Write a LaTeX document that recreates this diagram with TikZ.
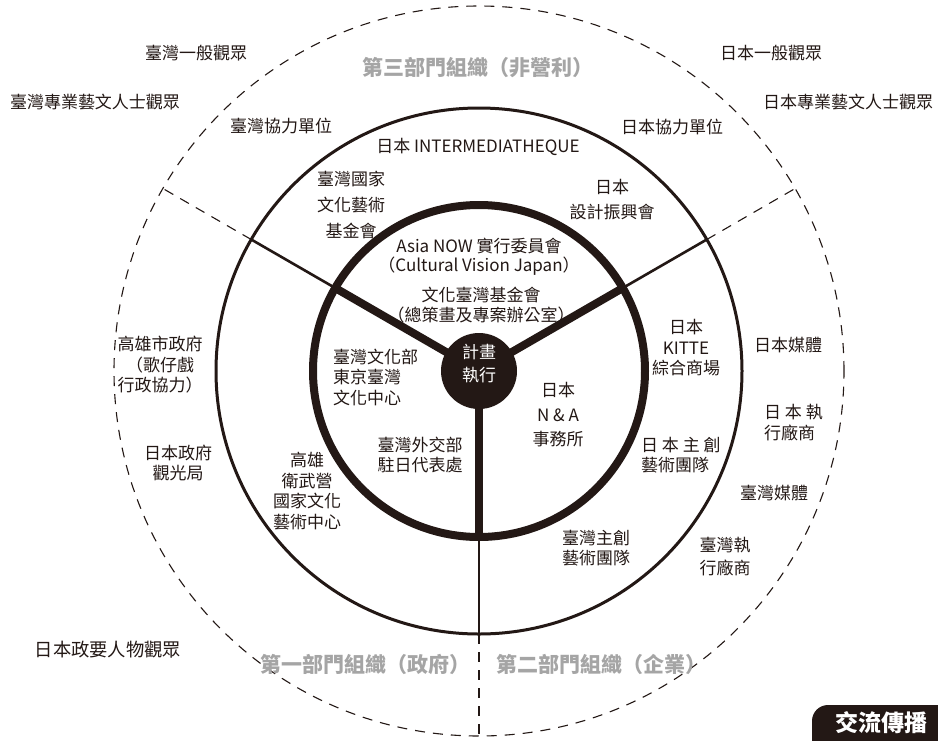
\documentclass[tikz,border=0pt]{standalone}
\usepackage{fontspec}
\setmainfont{Noto Sans CJK TC}
\usetikzlibrary{calc}
\definecolor{ink}{HTML}{231815}
\definecolor{graytitle}{HTML}{A5A5A5}
\begin{document}
\begin{tikzpicture}[x=1pt,y=-1pt,
  lbl/.style={text=ink, font=\fontsize{17}{21}\selectfont, align=center, inner sep=0pt},
  gtitle/.style={text=graytitle, font=\fontsize{21}{21}\selectfont\bfseries, inner sep=0pt},
  hubstyle/.style={circle, fill=ink, draw=none, minimum size=76pt, inner sep=0pt},
  hubtext/.style={text=white, font=\fontsize{17}{23}\selectfont, align=center, inner sep=0pt},
  spokethick/.style={draw=ink, line width=8pt},
  spokemid/.style={draw=ink, line width=2.6pt},
  spokeouter/.style={draw=ink, line width=1.1pt, dash pattern=on 10pt off 8pt},
  badgetext/.style={text=white, font=\fontsize{23}{23}\selectfont\bfseries, inner sep=0pt}]
\fill[white] (0,0) rectangle (938,740);
\useasboundingbox (0,0) rectangle (938,740);

\coordinate (c) at (479,371);
% circles
\draw[ink, line width=1.1pt, dash pattern=on 10pt off 8pt] (c) circle[radius=365pt];
\draw[ink, line width=3pt] (c) circle[radius=263pt];
\draw[ink, line width=8pt] (c) circle[radius=166pt];

% spokes
\foreach \a/\n in {210/a,330/b,90/d}{
  \path (c) ++(\a:166) coordinate (i\n) ++(\a:97) coordinate (m\n) ++(\a:102) coordinate (o\n);
  \draw[spokethick] (c) -- (i\n);
  \draw[spokemid] (i\n) -- (m\n);
  \draw[spokeouter] (m\n) -- (o\n);
}

\node[hubstyle] (hub) at (c) {};
\node[hubtext] (hubt) at (479,364) {計畫\\執行};

% outer audience labels
\node[lbl] (twgen) at (196,53) {臺灣一般觀眾};
\node[lbl] (twpro) at (95,102) {臺灣專業藝文人士觀眾};
\node[lbl] (twpart) at (281,126) {臺灣協力單位};
\node[lbl] (jpgen) at (771,53) {日本一般觀眾};
\node[lbl] (jppro) at (848,102) {日本專業藝文人士觀眾};
\node[lbl] (jppart) at (672,127) {日本協力單位};
\node[lbl, font=\fontsize{18.3}{21}\selectfont] (jvip) at (108,650) {日本政要人物觀眾};

% sector titles
\node[gtitle] (third) at (478,68) {第三部門組織（非營利）};
\node[gtitle] (first) at (365,664) {第一部門組織（政府）};
\node[gtitle] (second) at (601,664) {第二部門組織（企業）};

% ring between middle and outer
\node[lbl, font=\fontsize{17}{20.5}\selectfont] (khh) at (160,365) {高雄市政府\\（歌仔戲\\行政協力）};
\node[lbl, font=\fontsize{17}{20}\selectfont] (jnto) at (178,463) {日本政府\\觀光局};
\node[lbl] (jmedia) at (788,345) {日本媒體};
\node[lbl, align=left, anchor=west, font=\fontsize{17}{21}\selectfont] (jvend) at (764,423) {日 本 執\\行廠商};
\node[lbl] (tmedia) at (774,493) {臺灣媒體};
\node[lbl, font=\fontsize{17}{23}\selectfont] (tvend) at (725,557) {臺灣執\\行廠商};

% ring between inner and middle
\node[lbl] (imt) at (478,147) {日本 INTERMEDIATHEQUE};
\node[lbl, font=\fontsize{17}{26}\selectfont] (ncaf) at (351,205) {臺灣國家\\文化藝術\\基金會};
\node[lbl, font=\fontsize{17}{25}\selectfont] (jdp) at (612,200) {日本\\設計振興會};
\node[lbl, font=\fontsize{17}{20.5}\selectfont] (kitte) at (686,348) {日本\\KITTE\\綜合商場};
\node[lbl, align=left, anchor=west, font=\fontsize{17}{20}\selectfont] (jart) at (641,455) {日 本 主 創\\藝術團隊};
\node[lbl, font=\fontsize{17}{20}\selectfont] (tart) at (596,548) {臺灣主創\\藝術團隊};
\node[lbl, font=\fontsize{17}{20.7}\selectfont] (wwg) at (307,491) {高雄\\衛武營\\國家文化\\藝術中心};

% inside inner circle
\node[lbl, font=\fontsize{17}{19}\selectfont] (asia) at (479,257) {Asia NOW 實行委員會\\（Cultural Vision Japan）};
\node[lbl, font=\fontsize{17}{20}\selectfont] (ctf) at (481,305) {文化臺灣基金會\\（總策畫及專案辦公室）};
\node[lbl, align=left, anchor=west, font=\fontsize{17}{20.5}\selectfont] (tcc) at (333,377) {臺灣文化部\\東京臺灣\\文化中心};
\node[lbl, font=\fontsize{17}{24.5}\selectfont] (na) at (558,415) {日本\\N \& A\\事務所};
\node[lbl, font=\fontsize{17}{20}\selectfont] (mofa) at (420,455) {臺灣外交部\\駐日代表處};

% badge
\begin{scope}
  \clip (0,0) rectangle (938,740);
  \fill[ink, rounded corners=16pt] (812,705) rectangle (970,775);
\end{scope}
\node[badgetext] (badge) at (881,723) {交流傳播};
\end{tikzpicture}
\end{document}
